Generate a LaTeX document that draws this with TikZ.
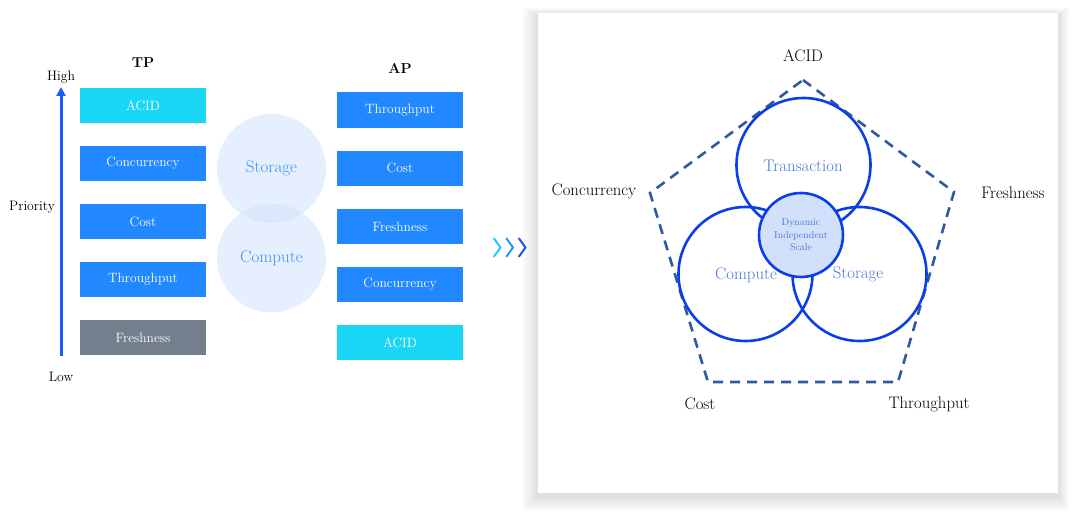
\documentclass[tikz,border=0pt]{standalone}
\usepackage{fontspec}
\usetikzlibrary{arrows.meta}
\definecolor{cyanbox}{HTML}{1AD6F5}
\definecolor{bluebox}{HTML}{2288FF}
\definecolor{graybox}{HTML}{737F8C}
\definecolor{arrowblue}{HTML}{1A5CF5}
\definecolor{bubble}{HTML}{CFE2FB}
\definecolor{bubbletext}{HTML}{3F8FF5}
\definecolor{pentcol}{HTML}{2F5A9E}
\definecolor{ringcol}{HTML}{0A3EE8}
\definecolor{corefill}{HTML}{D3E0FB}
\definecolor{ringtext}{HTML}{4A78D6}
\begin{document}
\begin{tikzpicture}[x=1pt,y=-1pt,
  box/.style={minimum width=126pt,minimum height=35pt,inner sep=0pt,text=white,font=\fontsize{13.5}{15}\selectfont},
  tpbox/.style={box,fill=bluebox},
  title/.style={font=\fontsize{14.4}{16}\selectfont\bfseries},
  side/.style={font=\fontsize{13.7}{15}\selectfont},
  bub/.style={circle,minimum size=109pt,inner sep=0pt,fill=bubble,fill opacity=0.55,text opacity=1,text=bubbletext,font=\fontsize{17}{19}\selectfont},
  ring/.style={circle,minimum size=134pt,inner sep=0pt,draw=ringcol,line width=2.6pt},
  ringlabel/.style={text=ringtext,font=\fontsize{16.8}{19}\selectfont},
  outer/.style={font=\fontsize{16.7}{19}\selectfont},
  chev/.style={line width=2pt,line cap=round,line join=round}
]
\useasboundingbox (0,0) rectangle (1080,527);
% card shadow
\foreach \i in {1,...,16}{
  \fill[black,opacity=0.0075] (538-\i,13-0.5*\i+3) rectangle (1058+0.7*\i,493+\i+3);
}
\fill[white] (538,13) rectangle (1058,493);

% TP column
\node[title] (tp) at (143,63) {TP};
\node[box,fill=cyanbox] (tp1) at (143,105.5) {ACID};
\node[tpbox] (tp2) at (143,163.5) {Concurrency};
\node[tpbox] (tp3) at (143,221.5) {Cost};
\node[tpbox] (tp4) at (143,279.5) {Throughput};
\node[box,fill=graybox] (tp5) at (143,337.5) {Freshness};

% priority axis
\coordinate (alow) at (61,356);
\coordinate (ahigh) at (61,87);
\draw[arrowblue,line width=3pt,-{Triangle[length=9pt,width=9pt]}] (alow) -- (ahigh);
\node[side] (high) at (61,77) {High};
\node[side] (low) at (61,377) {Low};
\node[side] (prio) at (32,207) {Priority};

% bubbles
\node[bub] (storage) at (271.5,168.5) {Storage};
\node[bub] (compute) at (271.5,258) {Compute};

% AP column
\node[title] (ap) at (400,68) {AP};
\node[tpbox] (ap1) at (400,110) {Throughput};
\node[tpbox] (ap2) at (400,168) {Cost};
\node[tpbox] (ap3) at (400,226.5) {Freshness};
\node[tpbox] (ap4) at (400,284.5) {Concurrency};
\node[box,fill=cyanbox] (ap5) at (400,342.5) {ACID};

% chevrons
\draw[chev,color={rgb,255:red,34;green,204;blue,245}] (494,238.5) -- (500.5,247.5) -- (494,256.5);
\draw[chev,color={rgb,255:red,42;green,150;blue,245}] (506.5,238.5) -- (513,247.5) -- (506.5,256.5);
\draw[chev,color={rgb,255:red,26;green,85;blue,232}] (519,238.5) -- (525.5,247.5) -- (519,256.5);

% pentagon
\coordinate (pA) at (803,80);
\coordinate (pF) at (954,192);
\coordinate (pT) at (898,382);
\coordinate (pC) at (708,382);
\coordinate (pK) at (650,193);
\draw[pentcol,line width=2.6pt,dash pattern=on 10pt off 7pt,line join=miter] (pA) -- (pF) -- (pT) -- (pC) -- (pK) -- cycle;

% rings
\node[ring] (trans) at (803.5,165) {};
\node[ring] (comp) at (745.5,274) {};
\node[ring] (stor) at (859.5,274) {};
\node[circle,minimum size=84pt,inner sep=0pt,draw=ringcol,line width=2.6pt,fill=corefill] (core) at (801,235) {};
\node[ringlabel] (transl) at (803,166) {Transaction};
\node[ringlabel] (compl) at (746,275) {Compute};
\node[ringlabel] (storl) at (858,274) {Storage};
\node[text=ringtext,align=center,font=\fontsize{9.9}{12.5}\selectfont] (corel) at (801,235) {Dynamic\\Independent\\Scale};

% outer labels
\node[outer] (lacid) at (803,56) {ACID};
\node[outer] (lconc) at (594,191) {Concurrency};
\node[outer] (lfresh) at (1013,193) {Freshness};
\node[outer] (lcost) at (700,404) {Cost};
\node[outer] (lthr) at (929,404) {Throughput};
\end{tikzpicture}
\end{document}
